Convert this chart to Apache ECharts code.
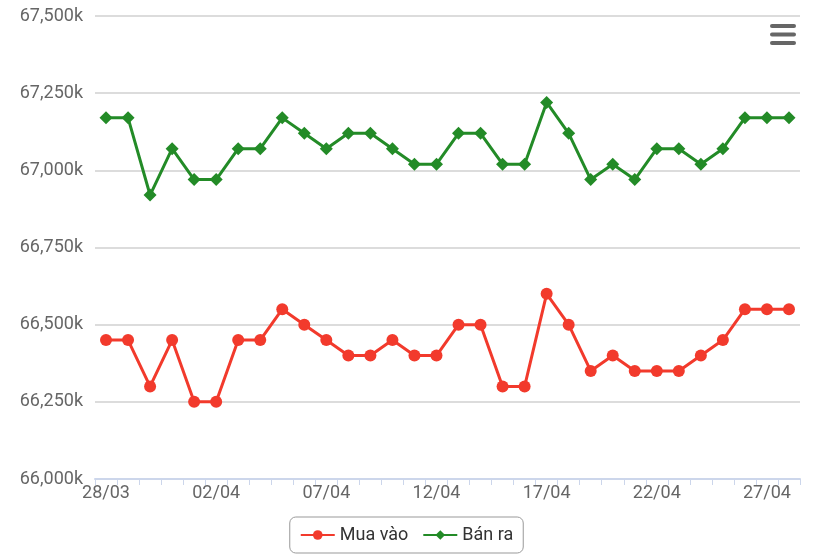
<!DOCTYPE html>
<html>
<head>
<meta charset="utf-8">
<script src="https://cdn.jsdelivr.net/npm/echarts@6/dist/echarts.min.js"></script>
<style>html,body{margin:0;padding:0;background:#fff}#c{width:813px;height:557px}</style>
</head>
<body>
<div id="c"></div>
<script>
const categories = ['28/03','29/03','30/03','31/03','01/04','02/04','03/04','04/04','05/04','06/04','07/04','08/04','09/04','10/04','11/04','12/04','13/04','14/04','15/04','16/04','17/04','18/04','19/04','20/04','21/04','22/04','23/04','24/04','25/04','26/04','27/04','28/04'];
const muaVao = [66450,66450,66300,66450,66250,66250,66450,66450,66550,66500,66450,66400,66400,66450,66400,66400,66500,66500,66300,66300,66600,66500,66350,66400,66350,66350,66350,66400,66450,66550,66550,66550];
const banRa = [67170,67170,66920,67070,66970,66970,67070,67070,67170,67120,67070,67120,67120,67070,67020,67020,67120,67120,67020,67020,67220,67120,66970,67020,66970,67070,67070,67020,67070,67170,67170,67170];
const seriesNames = ['Mua vào','Bán ra'];

const chart = echarts.init(document.getElementById('c'));
const font = 'Roboto, "Open Sans", sans-serif';
chart.setOption({
  animation: false,
  textStyle: {fontFamily: font},
  grid: {left: 95, right: 13, top: 16, bottom: 78},
  legend: {
    data: seriesNames,
    bottom: 4, left: 'center',
    itemWidth: 34, itemHeight: 12, itemGap: 14,
    borderColor: '#999', borderWidth: 1, borderRadius: 6,
    padding: [9, 10, 9, 10],
    textStyle: {fontSize: 18, color: '#333', fontFamily: font}
  },
  xAxis: {
    type: 'category',
    data: categories,
    boundaryGap: true,
    axisLine: {lineStyle: {color: '#ccd6eb', width: 2}},
    axisTick: {show: true, interval: 0, length: 6, lineStyle: {color: '#ccd6eb', width: 1}},
    axisLabel: {interval: 4, color: '#666', fontSize: 18, margin: 5, fontFamily: font},
    splitLine: {show: false}
  },
  yAxis: {
    type: 'value',
    min: 66000, max: 67500, interval: 250,
    axisLine: {show: false},
    axisTick: {show: false},
    axisLabel: {
      color: '#666', fontSize: 18, margin: 12, fontFamily: font,
      formatter: v => v.toLocaleString('en-US') + 'k'
    },
    splitLine: {lineStyle: {color: '#d0d0d0', width: 1.5}}
  },
  series: [
    {
      name: seriesNames[0], type: 'line', data: muaVao,
      symbol: 'circle', symbolSize: 12,
      lineStyle: {color: '#f23a2c', width: 3},
      itemStyle: {color: '#f23a2c'}
    },
    {
      name: seriesNames[1], type: 'line', data: banRa,
      symbol: 'diamond', symbolSize: 13,
      lineStyle: {color: '#238b27', width: 3},
      itemStyle: {color: '#238b27'}
    }
  ],
  graphic: [{
    type: 'group', right: 17, top: 24,
    children: [0, 1, 2].map(i => ({
      type: 'rect', shape: {x: 0, y: i * 8.5, width: 26, height: 4, r: 2},
      style: {fill: '#666'}
    }))
  }]
});
</script>
</body>
</html>
